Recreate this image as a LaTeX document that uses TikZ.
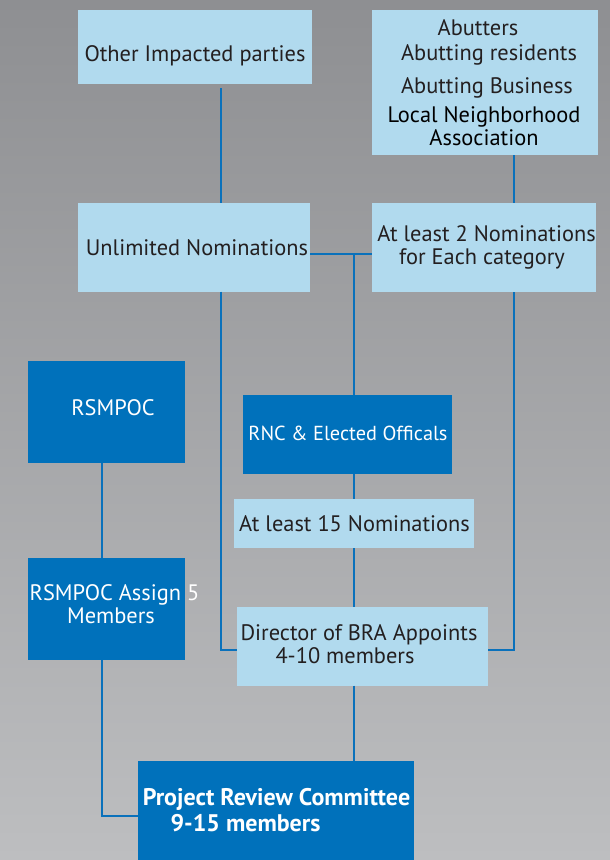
\documentclass[tikz,border=0pt]{standalone}
\usepackage{fontspec}
\setmainfont{PT Sans}
\definecolor{lightb}{HTML}{B1DAEE}
\definecolor{darkb}{HTML}{0071BB}
\definecolor{linec}{HTML}{0A71BB}
\definecolor{txtc}{HTML}{231F20}
\definecolor{bgtop}{HTML}{8E8F92}
\definecolor{bgbot}{HTML}{BDBEC0}
\begin{document}
\begin{tikzpicture}[x=1pt,y=-1pt,
  lbox/.style={fill=lightb, draw=none, inner sep=0pt, outer sep=0pt},
  dbox/.style={fill=darkb, draw=none, inner sep=0pt, outer sep=0pt},
  txt/.style={text=txtc, font=\fontsize{22.4}{24}\selectfont, inner sep=0pt, anchor=base},
  wtxt/.style={text=white, font=\fontsize{22.4}{24}\selectfont, inner sep=0pt, anchor=base},
  btxt/.style={text=white, font=\fontsize{24}{26}\selectfont\bfseries, inner sep=0pt, anchor=base},
  conn/.style={draw=linec, line width=2.6pt}]
\useasboundingbox (0,0) rectangle (610,860);
\shade[top color=bgtop, bottom color=bgbot] (0,0) rectangle (610,860);

% boxes
\node[lbox, minimum width=234pt, minimum height=74pt] (oip) at (195,47) {};
\node[lbox, minimum width=226pt, minimum height=145pt] (ab) at (485,82.5) {};
\node[lbox, minimum width=232pt, minimum height=89pt] (un) at (194,247) {};
\node[lbox, minimum width=224pt, minimum height=89pt] (a2) at (484,247.5) {};
\node[dbox, minimum width=157pt, minimum height=102pt] (rsm) at (106.5,412) {};
\node[dbox, minimum width=209pt, minimum height=79pt] (rnc) at (347.5,434.5) {};
\node[lbox, minimum width=240pt, minimum height=49pt] (a15) at (354,523.5) {};
\node[dbox, minimum width=157pt, minimum height=102pt] (rsa) at (106.5,609) {};
\node[lbox, minimum width=251pt, minimum height=79pt] (dir) at (362.5,646) {};
\node[dbox, minimum width=276pt, minimum height=100pt] (prc) at (276,811) {};

% texts
\node[txt] (oipT) at (195,61.5) {Other Impacted parties};
\node[txt] (abT1) at (478,35) {Abutters};
\node[txt] (abT2) at (489,60) {Abutting residents};
\node[txt] (abT3) at (487,93) {Abutting Business};
\node[txt, text=black] (abT4) at (484,122) {Local Neighborhood};
\node[txt, text=black] (abT5) at (484,145) {Association};
\node[txt] (unT) at (197,255) {Unlimited Nominations};
\node[txt] (a2T1) at (486.5,241) {At least 2 Nominations};
\node[txt] (a2T2) at (482,264) {for Each category};
\node[wtxt] (rsmT) at (113,415) {RSMPOC};
\node[wtxt, font=\fontsize{20.3}{24}\selectfont] (rncT) at (348,440) {RNC \& Elected Offical{}s};
\node[txt] (a15T) at (354.5,531.5) {At least 15 Nominations};
\node[wtxt] (rsaT1) at (114.5,600.5) {RSMPOC Assign 5};
\node[wtxt] (rsaT2) at (111,623) {Members};
\node[txt] (dirT1) at (359,640) {Director of BRA Appoints};
\node[txt] (dirT2) at (345,663) {4-10 members};
\node[btxt] (prcT1) at (276.5,805) {Project Review Committee};
\node[btxt] (prcT2) at (245.5,831.5) {9-15 members};

% helper coordinates
\coordinate (xL) at (221,0);
\coordinate (xR) at (514,0);
\coordinate (xM) at (354,0);
\coordinate (xS) at (102,0);
\coordinate (yH) at (0,254);
\coordinate (yD) at (0,650);
\coordinate (yP) at (0,816);
\coordinate (t1) at (221,88);

% connectors
\draw[conn] (t1) -- (un.north -| xL);
\draw[conn] (ab.south -| xR) -- (a2.north -| xR);
\draw[conn] (un.east |- yH) -- (a2.west |- yH);
\draw[conn] (xM |- yH) -- (rnc.north -| xM);
\draw[conn] (un.south -| xL) |- (dir.west |- yD);
\draw[conn] (a2.south -| xR) |- (dir.east |- yD);
\draw[conn] (rnc.south -| xM) -- (a15.north -| xM);
\draw[conn] (a15.south -| xM) -- (dir.north -| xM);
\draw[conn] (dir.south -| xM) -- (prc.north -| xM);
\draw[conn] (rsm.south -| xS) -- (rsa.north -| xS);
\draw[conn] (rsa.south -| xS) |- (prc.west |- yP);
\end{tikzpicture}
\end{document}
